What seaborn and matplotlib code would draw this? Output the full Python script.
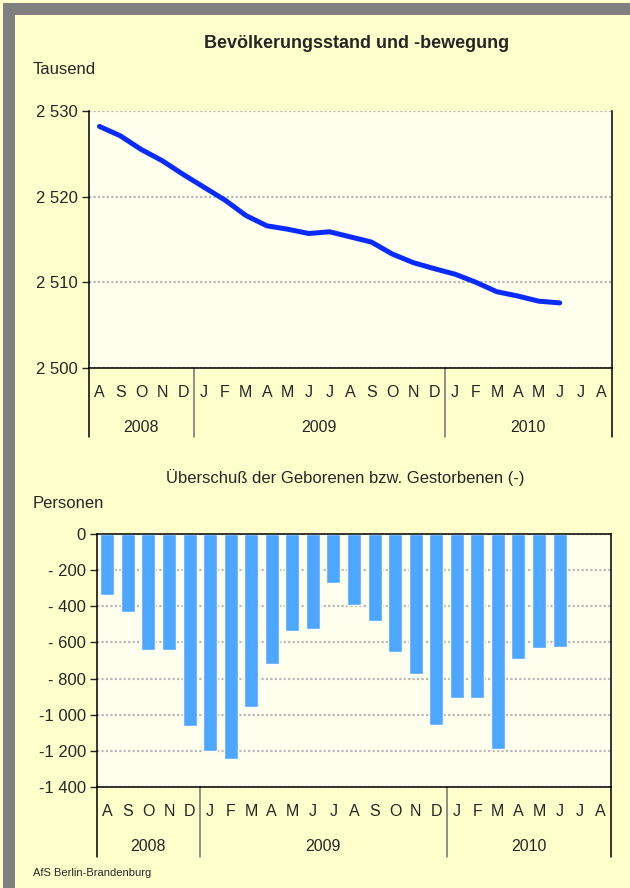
import numpy as np
import pandas as pd
import matplotlib.pyplot as plt
import matplotlib.transforms as mtransforms
from matplotlib.patches import Rectangle
import seaborn as sns

# Aug 2008 .. Aug 2010
months = ["A", "S", "O", "N", "D",
          "J", "F", "M", "A", "M", "J", "J", "A", "S", "O", "N", "D",
          "J", "F", "M", "A", "M", "J", "J", "A"]
years = ["2008", "2009", "2010"]
months_per_year = [5, 12, 8]

# population in thousand (Aug 2008 .. Jun 2010)
population = [2528.2, 2527.1, 2525.5, 2524.2, 2522.6, 2521.1, 2519.6, 2517.8,
              2516.6, 2516.2, 2515.7, 2515.9, 2515.3, 2514.7, 2513.3, 2512.3,
              2511.6, 2510.95, 2510.0, 2508.9, 2508.4, 2507.8, 2507.6]

# surplus of births / deaths (-) in persons
surplus = [-340, -430, -640, -640, -1060, -1200, -1245, -960, -720, -535, -525,
           -270, -395, -480, -655, -775, -1055, -905, -910, -1190, -690, -630, -625]

ticks_top = [2500, 2510, 2520, 2530]
ticks_bot = [0, -200, -400, -600, -800, -1000, -1200, -1400]

BG = "#FFFFCC"
PLOT_BG = "#FFFFEE"
LINE = "#0A2BFF"
BAR = "#4DA6FF"
GRID = "#B8B8B8"

n = len(months)
keys = [f"m{i:02d}" for i in range(n)]
top_df = pd.DataFrame({"x": range(len(population)), "v": population})
bot_df = pd.DataFrame({"x": keys, "v": surplus + [np.nan] * (n - len(surplus))})


def fmt(v):
    s = f"{abs(v):,.0f}".replace(",", " ")
    if v < 0:
        s = "-" + (s if abs(v) >= 1000 else " " + s)
    return s


sns.set_style("white")
plt.rcParams["font.family"] = ["Liberation Sans", "DejaVu Sans"]

fig = plt.figure(figsize=(6.3, 8.88), dpi=100)
fig.patch.set_facecolor(BG)
fig.patches.append(Rectangle((3 / 630, 0), 12 / 630, 1 - 3 / 888, transform=fig.transFigure,
                             facecolor="#808080", edgecolor="none", zorder=0))
fig.patches.append(Rectangle((3 / 630, 1 - 15 / 888), 1, 12 / 888, transform=fig.transFigure,
                             facecolor="#808080", edgecolor="none", zorder=0))

ax1 = fig.add_axes([89 / 630, 1 - 368 / 888, 523 / 630, 257 / 888])
ax2 = fig.add_axes([97 / 630, 1 - 787 / 888, 514 / 630, 253 / 888])

sns.lineplot(data=top_df, x="x", y="v", ax=ax1, color=LINE, linewidth=3.6)
sns.barplot(data=bot_df, x="x", y="v", order=keys, ax=ax2, color=BAR,
            saturation=1, width=0.68, errorbar=None)

ax1.set_ylim(2500, 2530)
ax1.set_yticks(ticks_top)
ax1.set_yticklabels([fmt(t) for t in ticks_top])
ax2.set_ylim(-1400, 0)
ax2.set_yticks(ticks_bot)
ax2.set_yticklabels([fmt(t) for t in ticks_bot])

bounds = np.concatenate([[0], np.cumsum(months_per_year)]) - 0.5
for ax, sep_depth, year_y in [(ax1, 69 / 257, 59 / 257), (ax2, 70 / 253, 59 / 253)]:
    ax.set_facecolor(PLOT_BG)
    ax.set_xlim(-0.5, n - 0.5)
    ax.set_xticks(range(n))
    ax.set_xticklabels(months)
    ax.set_xlabel("")
    ax.set_ylabel("")
    ax.tick_params(axis="x", length=0, pad=12, labelsize=11.5)
    ax.tick_params(axis="y", length=5, width=1, direction="out", left=True, pad=3,
                   labelsize=12)
    ax.yaxis.grid(True, color=GRID, linestyle=(0, (1, 1)), linewidth=1.6)
    ax.set_axisbelow(True)
    for s in ["left", "bottom", "right", "top"]:
        ax.spines[s].set_color("black")
        ax.spines[s].set_linewidth(1.1)
    trans = mtransforms.blended_transform_factory(ax.transData, ax.transAxes)
    for i, b in enumerate(bounds):
        col = "#707070" if 0 < i < len(bounds) - 1 else "black"
        ax.plot([b, b], [0, -sep_depth], transform=trans, color=col,
                linewidth=1.1, clip_on=False)
    for yr, a, b in zip(years, bounds[:-1], bounds[1:]):
        ax.text((a + b) / 2, -year_y, yr, transform=trans, ha="center", va="center",
                fontsize=11.5)

ax1.spines["top"].set_visible(False)

fig.text(357 / 630, 1 - 43 / 888, "Bevölkerungsstand und -bewegung", ha="center",
         va="center", fontsize=13, fontweight="bold")
fig.text(33 / 630, 1 - 70 / 888, "Tausend", ha="left", va="center", fontsize=12)
fig.text(345 / 630, 1 - 478 / 888, "Überschuß der Geborenen bzw. Gestorbenen (-)",
         ha="center", va="center", fontsize=12)
fig.text(33 / 630, 1 - 503 / 888, "Personen", ha="left", va="center", fontsize=12)
fig.text(33 / 630, 1 - 873 / 888, "AfS Berlin-Brandenburg", ha="left", va="center",
         fontsize=8)

fig.savefig("out.png", dpi=100, facecolor=BG)
